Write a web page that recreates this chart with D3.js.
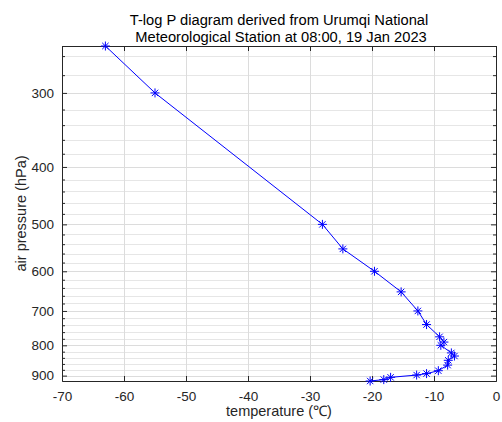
<!DOCTYPE html>
<html>
<head>
<meta charset="utf-8">
<script src="https://cdn.jsdelivr.net/npm/d3@7"></script>
<style>
  html, body { margin: 0; padding: 0; background: #fff; }
  svg { display: block; font-family: "Liberation Sans", Arial, Helvetica, sans-serif; }
</style>
</head>
<body>
<svg id="chart" width="502" height="422"></svg>
<script>
// ---- data ----
const temperature = [-63, -55, -28, -24.7, -19.6, -15.3, -12.6, -11.2, -9.1, -8.4, -8.9, -7.2, -6.7, -7.7, -7.8, -9.3, -11.2, -12.8, -17.0, -18.1, -20.3];
const pressure    = [250, 300, 500, 550, 600, 650, 700, 738, 774, 790, 800, 824, 834, 848, 864, 883, 893, 898, 906, 914, 919];
const xTicks = [-70, -60, -50, -40, -30, -20, -10, 0];
const yTicks = [300, 400, 500, 600, 700, 800, 900];
const yMinor = [260, 280, 320, 340, 360, 380, 420, 440, 460, 480, 520, 540, 560, 580, 620, 640, 660, 680, 720, 740, 760, 780, 820, 840, 860, 880];
const titleLines = ["T-log P diagram derived from Urumqi National", "Meteorological Station at 08:00, 19 Jan 2023"];
const xLabel = "temperature (\u2103)";
const yLabel = "air pressure (hPa)";

const data = temperature.map((t, i) => ({t, p: pressure[i]}));

const L = 62, R = 496, T = 46, B = 381;
const x = d3.scaleLinear().domain([-70, 0]).range([L, R]);
const y = d3.scaleLog().domain([250, 919]).range([T, B]);

const svg = d3.select("#chart");
const axisColor = "#262626";

// grid
const g = svg.append("g");
g.selectAll("line.minor").data(yMinor).join("line")
  .attr("x1", L).attr("x2", R)
  .attr("y1", d => Math.round(y(d)) + 0.5).attr("y2", d => Math.round(y(d)) + 0.5)
  .attr("stroke", "#e6e6e6").attr("stroke-width", 1);
g.selectAll("line.majory").data(yTicks).join("line")
  .attr("x1", L).attr("x2", R)
  .attr("y1", d => Math.round(y(d)) + 0.5).attr("y2", d => Math.round(y(d)) + 0.5)
  .attr("stroke", "#dcdcdc").attr("stroke-width", 1);
g.selectAll("line.majorx").data(xTicks).join("line")
  .attr("y1", T).attr("y2", B)
  .attr("x1", d => Math.round(x(d)) + 0.5).attr("x2", d => Math.round(x(d)) + 0.5)
  .attr("stroke", "#dcdcdc").attr("stroke-width", 1);

// axes
const fmt = d => String(d);
const xAxisB = d3.axisBottom(x).tickValues(xTicks).tickSizeInner(-5).tickSizeOuter(0).tickPadding(10.5).tickFormat(fmt);
const xAxisT = d3.axisTop(x).tickValues(xTicks).tickSizeInner(-5).tickSizeOuter(0).tickFormat("");
const yAxisL = d3.axisLeft(y).tickValues(yTicks).tickSizeInner(-5).tickSizeOuter(0).tickPadding(8).tickFormat(fmt);
const yAxisLm = d3.axisLeft(y).tickValues(yMinor).tickSizeInner(-3).tickSizeOuter(0).tickFormat("");
const yAxisR = d3.axisRight(y).tickValues(yTicks).tickSizeInner(-5).tickSizeOuter(0).tickFormat("");
const yAxisRm = d3.axisRight(y).tickValues(yMinor).tickSizeInner(-3).tickSizeOuter(0).tickFormat("");

function style(sel) {
  sel.selectAll("path").attr("stroke", axisColor);
  sel.selectAll("line").attr("stroke", axisColor);
  sel.selectAll("text").attr("fill", axisColor).attr("font-size", 13.5)
     .attr("font-family", '"Liberation Sans", Arial, sans-serif');
}
svg.append("g").attr("transform", `translate(0,${B})`).call(xAxisB).call(style);
svg.append("g").attr("transform", `translate(0,${T})`).call(xAxisT).call(style);
svg.append("g").attr("transform", `translate(${L},0)`).call(yAxisL).call(style);
svg.append("g").attr("transform", `translate(${L},0)`).call(yAxisLm).call(style);
svg.append("g").attr("transform", `translate(${R},0)`).call(yAxisR).call(style);
svg.append("g").attr("transform", `translate(${R},0)`).call(yAxisRm).call(style);

// line
const line = d3.line().x(d => x(d.t)).y(d => y(d.p));
svg.append("path").datum(data).attr("d", line)
  .attr("fill", "none").attr("stroke", "#0000ff").attr("stroke-width", 1);

// star markers
const s = 4.5, s2 = s * 0.7071;
const star = `M${-s},0L${s},0M0,${-s}L0,${s}M${-s2},${-s2}L${s2},${s2}M${-s2},${s2}L${s2},${-s2}`;
svg.append("g").selectAll("path").data(data).join("path")
  .attr("transform", d => `translate(${x(d.t)},${y(d.p)})`)
  .attr("d", star).attr("fill", "none").attr("stroke", "#0000ff").attr("stroke-width", 1);

// title
svg.append("text").attr("x", (L + R) / 2).attr("y", 25).attr("text-anchor", "middle")
  .attr("font-size", 14.7).attr("fill", "#000").text(titleLines[0]);
svg.append("text").attr("x", (L + R) / 2 + 2).attr("y", 42).attr("text-anchor", "middle")
  .attr("font-size", 14.7).attr("fill", "#000").text(titleLines[1]);

// axis labels
svg.append("text").attr("x", (L + R) / 2).attr("y", 416).attr("text-anchor", "middle")
  .attr("font-size", 14.5).attr("fill", axisColor).text(xLabel);
svg.append("text").attr("transform", `translate(26,${(T + B) / 2}) rotate(-90)`)
  .attr("text-anchor", "middle").attr("font-size", 14.5).attr("fill", axisColor).text(yLabel);
</script>
</body>
</html>
